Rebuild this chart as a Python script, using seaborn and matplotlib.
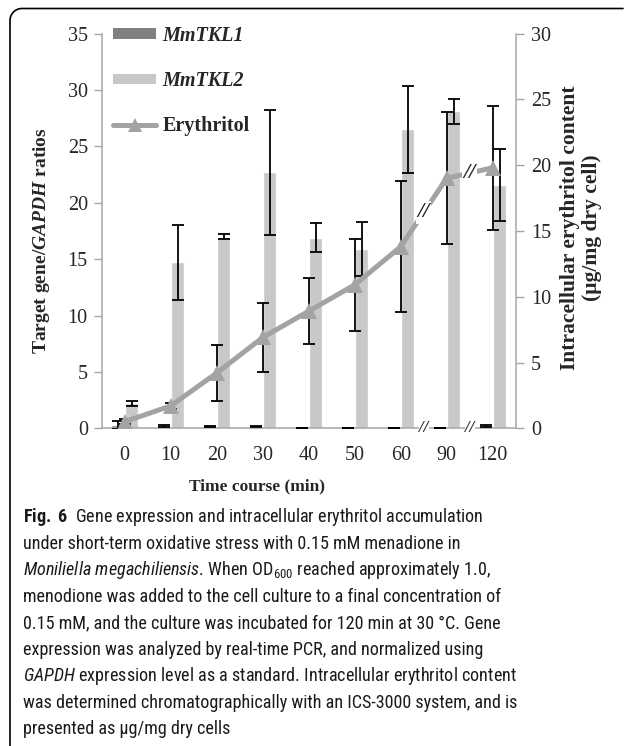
import os
import dataclasses
import matplotlib
matplotlib.use("Agg")
import matplotlib.pyplot as plt
from matplotlib import font_manager
import numpy as np
import pandas as pd
import seaborn as sns
from matplotlib.lines import Line2D
from matplotlib.patches import Patch

# ---------------- data ----------------
times = ["0", "10", "20", "30", "40", "50", "60", "90", "120"]
tkl1 = [0.3, 0.2, 0.15, 0.15, 0.05, 0.05, 0.05, 0.05, 0.2]
tkl1_sd = [0.35, 0.05, 0.05, 0.05, 0.02, 0.02, 0.02, 0.02, 0.05]
tkl2 = [2.2, 14.7, 17.0, 22.7, 16.9, 15.9, 26.5, 28.1, 21.6]
tkl2_sd = [0.2, 3.35, 0.25, 5.55, 1.3, 2.4, 3.85, 1.1, 3.2]
ery = [0.5, 1.7, 4.2, 6.9, 8.9, 10.9, 13.8, 19.0, 19.8]
ery_sd = [0.2, 0.2, 2.1, 2.6, 2.5, 3.5, 5.0, 5.0, 4.7]
genes = ["MmTKL1", "MmTKL2"]
left_ticks = [0, 5, 10, 15, 20, 25, 30, 35]
right_ticks = [0, 5, 10, 15, 20, 25, 30]

caption_lines = [
    r"$\mathbf{Fig.\ 6}$  Gene expression and intracellular erythritol accumulation",
    "under short-term oxidative stress with 0.15 mM menadione in",
    r"$\mathit{Moniliella\ megachiliensis}$. When OD$_{\mathrm{600}}$ reached approximately 1.0,",
    "menodione was added to the cell culture to a final concentration of",
    "0.15 mM, and the culture was incubated for 120 min at 30 \u00b0C. Gene",
    "expression was analyzed by real-time PCR, and normalized using",
    r"$\mathit{GAPDH}$ expression level as a standard. Intracellular erythritol content",
    "was determined chromatographically with an ICS-3000 system, and is",
    "presented as \u00b5g/mg dry cells",
]

# ---------------- style ----------------
dark = "#808080"
light = "#c8c8c8"
lc = "#a3a3a3"
spine_c = "#a6a6a6"

# ---- caption font: narrow humanist sans with regular/italic/bold faces ----
faces = font_manager.fontManager.ttflist


def wnum(w):
    if isinstance(w, str):
        return font_manager.weight_dict.get(w.lower(), 400)
    return int(w)


def has_face(name, style, lo, hi):
    return any(f.name == name and f.style == style and lo <= wnum(f.weight) <= hi
               for f in faces)


cap_font = None
for cand in ["Myriad Pro", "Noto Sans SemiCondensed", "Open Sans SemiCondensed",
             "Roboto Condensed", "Liberation Sans Narrow",
             "Noto Sans Condensed", "Open Sans Condensed",
             "DejaVu Sans Condensed"]:
    if has_face(cand, "normal", 350, 450) and has_face(cand, "italic", 350, 450):
        cap_font = cand
        break

if cap_font is None:
    # semi-condensed static files registered under the base family name
    by_key = {}
    for f in faces:
        b = os.path.basename(f.fname).lower().replace("_", "").replace("-", "")
        by_key[b] = f
    for pre in ["notosans", "opensans"]:
        got = {}
        for ext in (".ttf", ".otf"):
            for role, keys in [("r", ["semicondensed", "semicondensedregular"]),
                               ("i", ["semicondenseditalic"]),
                               ("b", ["semicondensedbold"])]:
                for k in keys:
                    if pre + k + ext in by_key and role not in got:
                        got[role] = by_key[pre + k + ext]
        if "r" in got and "i" in got:
            try:
                for role, f in got.items():
                    st = "italic" if role == "i" else "normal"
                    wt = 700 if role == "b" else 400
                    faces.append(dataclasses.replace(
                        f, name="CaptionSans", style=st, weight=wt,
                        stretch="normal"))
                cap_font = "CaptionSans"
            except Exception:
                cap_font = None
            break

if cap_font is None:
    cap_font = "Lato"

sns.set_style("white")
plt.rcParams["font.family"] = ["Liberation Serif", "DejaVu Serif"]
plt.rcParams["mathtext.fontset"] = "custom"
plt.rcParams["mathtext.rm"] = cap_font
plt.rcParams["mathtext.it"] = cap_font + ":italic"
plt.rcParams["mathtext.bf"] = cap_font + ":bold"
try:
    plt.rcParams["mathtext.bfit"] = "Liberation Serif:italic:bold"
    bfit_ok = True
except KeyError:
    bfit_ok = False

W, H = 627, 746
fig = plt.figure(figsize=(W / 100, H / 100), dpi=100)
x0, x1 = 101.7, 515.7
y0, y1 = 428.3, 33.5
ax = fig.add_axes([x0 / W, 1 - y0 / H, (x1 - x0) / W, (y0 - y1) / H])

df = pd.DataFrame({
    "Time": times * 2,
    "Ratio": tkl1 + tkl2,
    "Gene": [genes[0]] * len(times) + [genes[1]] * len(times),
})
sns.barplot(data=df, x="Time", y="Ratio", hue="Gene", order=times,
            hue_order=genes, palette=[dark, light], width=0.6, gap=0.06,
            saturation=1, errorbar=None, legend=False, ax=ax, zorder=2)

for cont, sds in zip(ax.containers, [tkl1_sd, tkl2_sd]):
    xs = [b.get_x() + b.get_width() / 2 for b in cont]
    hs = [b.get_height() for b in cont]
    ax.errorbar(xs, hs, yerr=sds, fmt="none", ecolor="black",
                elinewidth=1.3, capsize=4.5, capthick=1.3, zorder=3)

ax2 = ax.twinx()
sns.lineplot(x=times, y=ery, ax=ax2, color=lc, linewidth=3.6, marker="^",
             markersize=12, markeredgewidth=0, sort=False, zorder=4)
line = ax2.lines[0]
lx = line.get_xdata()
ax2.errorbar(lx, ery, yerr=ery_sd, fmt="none", ecolor="black",
             elinewidth=1.3, capsize=4.5, capthick=1.3, zorder=3)

# break marks on the line between 60-90 and 90-120, and on the x axis
for i in (6, 7):
    mx = (lx[i] + lx[i + 1]) / 2
    my = (ery[i] + ery[i + 1]) / 2
    ax2.text(mx, my, "//", ha="center", va="center", fontsize=16,
             fontweight="bold", style="italic", zorder=6,
             bbox=dict(facecolor="white", edgecolor="none", pad=1.2))
    ax2.text(mx, 0, "//", ha="center", va="center", fontsize=12,
             fontweight="bold", style="italic", zorder=6, clip_on=False,
             transform=ax2.get_xaxis_transform(),
             bbox=dict(facecolor="white", edgecolor="none", pad=0.3))

# axes limits / ticks
ax.set_xlim(-0.5, len(times) - 0.5)
ax.set_ylim(0, 35)
ax2.set_ylim(0, 30)
ax.set_xticks(range(len(times)))
ax.set_xticklabels(times, fontsize=14.5)
ax.set_xticks(np.arange(-0.5, len(times), 1.0), minor=True)
ax.tick_params(axis="x", which="major", length=0, pad=13)
ax.tick_params(axis="x", which="minor", length=6, width=1, color=spine_c,
               direction="out")
ax.set_yticks(left_ticks)
ax.set_yticklabels([str(v) for v in left_ticks], fontsize=14.5)
ax.tick_params(axis="y", length=6, width=1, color=spine_c, direction="out",
               pad=4, left=True)
ax2.set_yticks(right_ticks)
ax2.set_yticklabels([str(v) for v in right_ticks], fontsize=14.5)
ax2.tick_params(axis="y", length=6, width=1, color=spine_c, direction="out",
                pad=5, right=True)

for s in ["top", "right"]:
    ax.spines[s].set_visible(False)
for s in ["top", "left", "bottom"]:
    ax2.spines[s].set_visible(False)
for s in ["left", "bottom"]:
    ax.spines[s].set_color(spine_c)
    ax.spines[s].set_linewidth(1.1)
ax2.spines["right"].set_color(spine_c)
ax2.spines["right"].set_linewidth(1.1)
ax.grid(False)
ax2.grid(False)

# labels
ax.set_xlabel("Time course (min)", fontsize=12.5, fontweight="bold")
ax.xaxis.set_label_coords(0.375, -0.127)
if bfit_ok:
    ylab = r"Target gene/$\mathbfit{GAPDH}$ ratios"
else:
    ylab = "Target gene/GAPDH ratios"
ax.set_ylabel(ylab, fontsize=14, fontweight="bold")
ax.yaxis.set_label_coords(-0.12, 0.475)
ax2.set_ylabel("Intracellular erythritol content\n(\u03bcg/mg dry cell)",
               fontsize=15.5, fontweight="bold", linespacing=1.1,
               multialignment="center")
ax2.yaxis.set_label_coords(1.108, 0.507)

# legend
handles = [Patch(facecolor=dark, edgecolor="none"),
           Patch(facecolor=light, edgecolor="none"),
           Line2D([], [], color=lc, lw=3.6, marker="^", markersize=10,
                  markeredgewidth=0)]
leg = ax2.legend(handles, genes + ["Erythritol"], loc="upper left",
                 bbox_to_anchor=(113 / W, 1 - 26 / H),
                 bbox_transform=fig.transFigure, frameon=False, borderpad=0,
                 borderaxespad=0, handlelength=2.15, handleheight=0.45,
                 handletextpad=0.3, labelspacing=1.25,
                 prop=dict(weight="bold", size=14.5))
for t in leg.get_texts()[:2]:
    t.set_style("italic")

# caption
cap_x = 23 / W
base0 = 522.0
step = 26.55
cap_texts = []
for i, s in enumerate(caption_lines):
    t = fig.text(cap_x, 1 - (base0 + i * step) / H, s, family=cap_font,
                 weight="normal", style="normal",
                 math_fontfamily="custom", fontsize=14, va="baseline",
                 ha="left", color="#1a1a1a")
    cap_texts.append(t)
renderer = fig.canvas.get_renderer()
wref = cap_texts[3].get_window_extent(renderer).width
fs = 14 * 480.0 / wref
for t in cap_texts:
    t.set_fontsize(fs)

# partial rounded frame (top + left)
r = 12
th = np.linspace(np.pi, np.pi / 2, 25)
fx = [10] + list(10 + r + r * np.cos(th)) + [623]
fy = [H] + list(8.5 + r - r * np.sin(th)) + [8.5]
fig.add_artist(Line2D(np.array(fx) / W, 1 - np.array(fy) / H,
                      transform=fig.transFigure, color="black", lw=1.2))

fig.savefig("out.png", dpi=100)
